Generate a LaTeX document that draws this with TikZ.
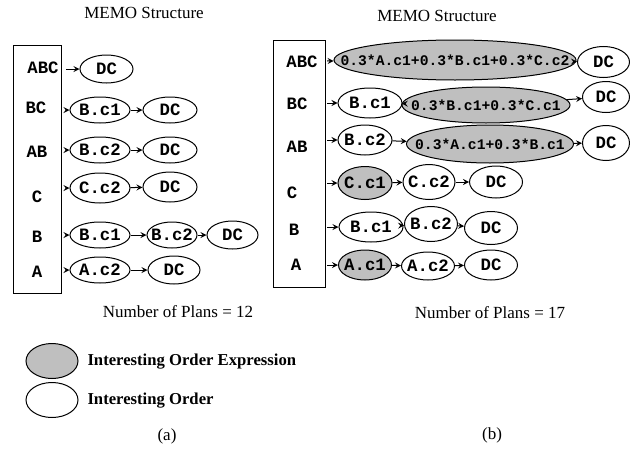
\documentclass[tikz,border=0pt]{standalone}
\usepackage{fontspec}
\setmainfont{Liberation Serif}
\setmonofont{Liberation Mono}
\usetikzlibrary{shapes.geometric,arrows}
\definecolor{exprgray}{gray}{0.75}

\begin{document}
\begin{tikzpicture}[x = 0.6pt, y = -0.6pt, >=stealth, line width = 0.6pt,
    esize/.style 2 args = {minimum width = #1*0.6pt, minimum height = #2*0.6pt},
    % the ellipse keeps its given size, the text is centred on it
    ordnode/.style = {draw, ellipse, inner sep = 0pt, font = \fontsize{10.4}{12}\ttfamily\bfseries,
        execute at begin node = {\hbox to 0pt\bgroup\hss}, execute at end node = {\hss\egroup}},
    exprnode/.style = {ordnode, fill = exprgray, font = \fontsize{8.8}{10}\ttfamily\bfseries},
    rowlabel/.style = {font = \fontsize{10.4}{12}\ttfamily\bfseries},
    memobox/.style = {draw, rectangle, inner sep = 0pt},
    caption/.style = {font = \fontsize{10.2}{12}\selectfont},
    keytext/.style = {anchor = west, inner sep = 0pt, font = \fontsize{10}{12}\selectfont\bfseries}]

    \useasboundingbox (0, 0) rectangle (630, 452);

    % (a) plain interesting orders
    \node [caption] (titlea) at (144, 13) {MEMO Structure};
    \node [memobox, esize = {48}{248}] (memoa) at (37, 169) {};

    \node [rowlabel] (aABC) at (43, 68) {ABC};
    \node [rowlabel] (aBC) at (36, 108) {BC};
    \node [rowlabel] (aAB) at (37, 152) {AB};
    \node [rowlabel] (aC) at (37, 197) {C};
    \node [rowlabel] (aB) at (37, 237) {B};
    \node [rowlabel] (aA) at (37, 272) {A};

    \coordinate (saABC) at (66, 69);
    \coordinate (saBC) at (66, 110);
    \coordinate (saAB) at (66, 150);
    \coordinate (saC) at (66, 188);
    \coordinate (saB) at (66, 235);
    \coordinate (saA) at (66, 270);

    \node [ordnode, esize = {53}{28}] (aABCdc) at (106.5, 69) {DC};

    \node [ordnode, esize = {60}{26}] (aBC1) at (100, 110) {B.c1};
    \node [ordnode, esize = {54}{26}] (aBCdc) at (170, 110) {DC};

    \node [ordnode, esize = {60}{26}] (aAB1) at (100, 150) {B.c2};
    \node [ordnode, esize = {54}{26}] (aABdc) at (170, 150) {DC};

    \node [ordnode, esize = {60}{30}] (aC1) at (100, 188) {C.c2};
    \node [ordnode, esize = {54}{30}] (aCdc) at (170, 187) {DC};

    \node [ordnode, esize = {60}{26}] (aB1) at (100, 235) {B.c1};
    \node [ordnode, esize = {50}{26}] (aB2) at (172, 235) {B.c2};
    \node [ordnode, esize = {51}{28}] (aBdc) at (232.5, 235) {DC};

    \node [ordnode, esize = {60}{26}] (aA1) at (100, 270) {A.c2};
    \node [ordnode, esize = {52}{28}] (aAdc) at (174, 270) {DC};

    \draw [->] (saABC) -- (aABCdc);
    \draw [->] (saBC) -- (aBC1);
    \draw [->] (aBC1) -- (aBCdc);
    \draw [->] (saAB) -- (aAB1);
    \draw [->] (aAB1) -- (aABdc);
    \draw [->] (saC) -- (aC1);
    \draw [->] (aC1) -- (aCdc);
    \draw [->] (saB) -- (aB1);
    \draw [->] (aB1) -- (aB2);
    \draw [->] (aB2) -- (aBdc);
    \draw [->] (saA) -- (aA1);
    \draw [->] (aA1) -- (aAdc);

    \node [caption] (plansa) at (178, 312) {Number of Plans = 12};

    % (b) with order expressions
    \node [caption] (titleb) at (437, 16) {MEMO Structure};
    \node [memobox, esize = {52}{247}] (memob) at (299, 163.5) {};

    \node [rowlabel] (bABC) at (302, 62) {ABC};
    \node [rowlabel] (bBC) at (297, 104) {BC};
    \node [rowlabel] (bAB) at (297, 147) {AB};
    \node [rowlabel] (bC) at (292, 193) {C};
    \node [rowlabel] (bB) at (294, 230) {B};
    \node [rowlabel] (bA) at (296, 265) {A};

    \coordinate (sbABC) at (327, 61);
    \coordinate (sbBC) at (327, 103);
    \coordinate (sbAB) at (327, 140);
    \coordinate (sbC) at (327, 183);
    \coordinate (sbB) at (327, 227);
    \coordinate (sbA) at (327, 265);

    \node [exprnode, esize = {242}{40}] (bABC1) at (455, 60) {0.3*A.c1+0.3*B.c1+0.3*C.c2};
    \node [ordnode, esize = {52}{31}] (bABCdc) at (603.5, 62) {DC};

    \node [ordnode, esize = {64}{30}] (bBC1) at (370, 103) {B.c1};
    \node [exprnode, esize = {168}{36}] (bBC2) at (486, 105) {0.3*B.c1+0.3*C.c1};
    \node [ordnode, esize = {47}{31}] (bBCdc) at (606, 97) {DC};

    \node [ordnode, esize = {54}{30}] (bAB1) at (365, 140) {B.c2};
    \node [exprnode, esize = {167}{38}] (bAB2) at (490, 144) {0.3*A.c1+0.3*B.c1};
    \node [ordnode, esize = {47}{35}] (bABdc) at (606, 143) {DC};

    \node [exprnode, esize = {54}{33}, font = \fontsize{10.4}{12}\ttfamily\bfseries] (bC1) at (365, 183) {C.c1};
    \node [ordnode, esize = {52}{35}] (bC2) at (429, 182) {C.c2};
    \node [ordnode, esize = {53}{32}] (bCdc) at (496, 182) {DC};

    \node [ordnode, esize = {64}{30}] (bB1) at (371, 227) {B.c1};
    \node [ordnode, esize = {53}{35}] (bB2) at (431, 224) {B.c2};
    \node [ordnode, esize = {53}{33}] (bBdc) at (491, 228) {DC};

    \node [exprnode, esize = {53}{30}, font = \fontsize{10.4}{12}\ttfamily\bfseries] (bA1) at (365, 265) {A.c1};
    \node [ordnode, esize = {53}{28}] (bA2) at (428, 266) {A.c2};
    \node [ordnode, esize = {53}{30}] (bAdc) at (491, 265) {DC};

    \draw [->] (sbABC) -- (bABC1);
    \draw [->] (bABC1) -- (bABCdc);
    \draw [->] (sbBC) -- (bBC1);
    \draw [->] (bBC1) -- (bBC2);
    \draw [->] (bBC2) -- (bBCdc);
    \draw [->] (sbAB) -- (bAB1);
    \draw [->] (bAB1) -- (bAB2);
    \draw [->] (bAB2) -- (bABdc);
    \draw [->] (sbC) -- (bC1);
    \draw [->] (bC1) -- (bC2);
    \draw [->] (bC2) -- (bCdc);
    \draw [->] (sbB) -- (bB1);
    \draw [->] (bB1) -- (bB2);
    \draw [->] (bB2) -- (bBdc);
    \draw [->] (sbA) -- (bA1);
    \draw [->] (bA1) -- (bA2);
    \draw [->] (bA2) -- (bAdc);

    \node [caption] (plansb) at (490, 313) {Number of Plans = 17};

    % key
    \node [exprnode, esize = {52}{35}] (keyexpr) at (52, 361) {};
    \node [keytext] (keyexprtext) at (87, 362) {Interesting Order Expression};
    \node [ordnode, esize = {52}{35}] (keyord) at (52, 400) {};
    \node [keytext] (keyordtext) at (87, 401) {Interesting Order};

    \node [caption] (capa) at (167, 436) {(a)};
    \node [caption] (capb) at (492, 435) {(b)};

\end{tikzpicture}
\end{document}
